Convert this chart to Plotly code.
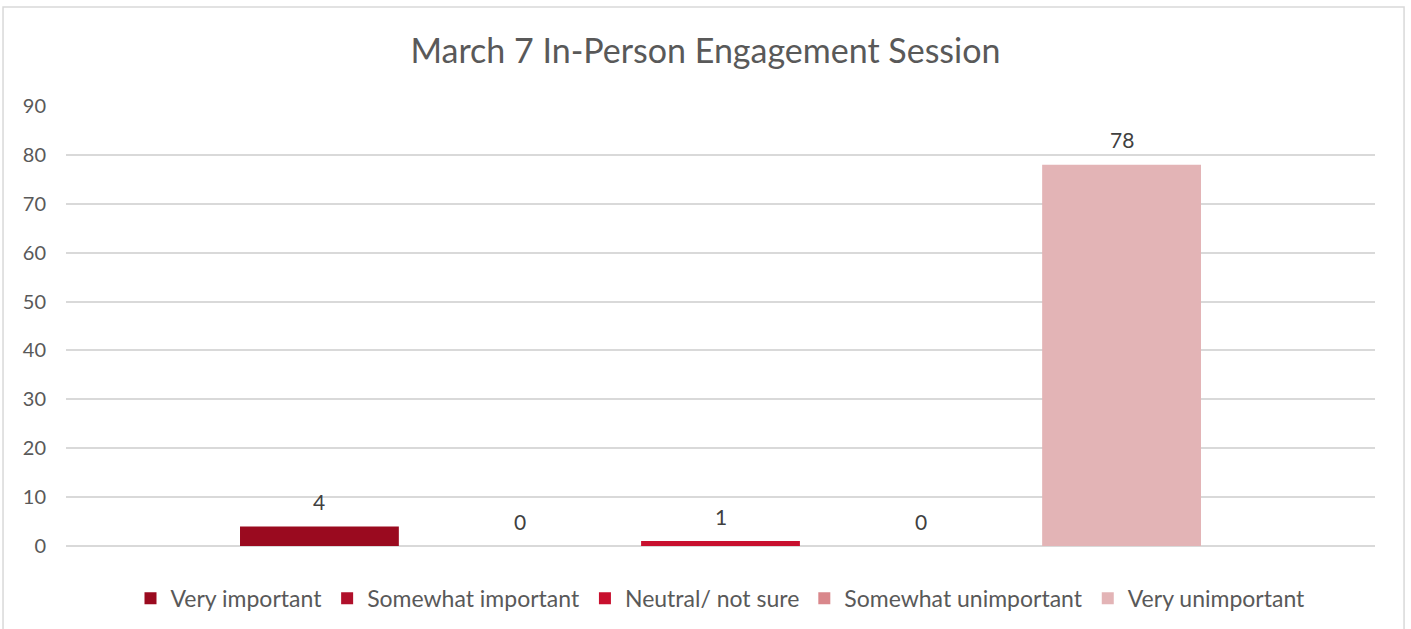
import plotly.graph_objects as go

categories = [""]
series_names = ["Very important", "Somewhat important", "Neutral/ not sure",
                "Somewhat unimportant", "Very unimportant"]
series_values = [4, 0, 1, 0, 78]
colors = ["#9A0A1F", "#B0102B", "#C8102E", "#D9878B", "#E3B4B6"]
y_ticks = [0, 10, 20, 30, 40, 50, 60, 70, 80, 90]

FONT = "Lato"
TXT = "#595959"

BARGAP = 0.234
BARGROUPGAP = 0.208

fig = go.Figure()
for name, val, col in zip(series_names, series_values, colors):
    fig.add_trace(go.Bar(
        x=categories, y=[val], name=name, marker=dict(color=col, line=dict(width=0)),
        hoverinfo="name+y",
    ))

n = len(series_names)
slot = (1 - BARGAP) / n
for i, val in enumerate(series_values):
    xc = -(1 - BARGAP) / 2 + slot * (i + 0.5)
    fig.add_annotation(x=xc, y=val, xref="x", yref="y", text=str(val),
                       showarrow=False, yanchor="middle", yshift=25,
                       font=dict(family=FONT, size=21, color="#404040"))

fig.add_shape(type="rect", xref="paper", yref="paper",
              x0=-0.0481, x1=1.0222, y0=-0.2, y1=1.225,
              line=dict(color="#D9D9D9", width=1.5), layer="below")

fig.update_layout(
    width=1411, height=629,
    paper_bgcolor="white", plot_bgcolor="white",
    margin=dict(l=66, r=36, t=106, b=83, autoexpand=False),
    barmode="group", bargap=BARGAP, bargroupgap=BARGROUPGAP,
    title=dict(text="March 7 In-Person Engagement Session", x=0.5, xanchor="center",
               y=0.918, yanchor="middle",
               font=dict(family=FONT, size=34, color=TXT)),
    font=dict(family=FONT, color=TXT),
    showlegend=True,
    legend=dict(orientation="h", x=0.5, xanchor="center",
                yref="container", y=0.049, yanchor="middle",
                font=dict(family=FONT, size=23, color=TXT),
                itemwidth=30, traceorder="normal", itemclick=False),
    xaxis=dict(showticklabels=False, showgrid=False, zeroline=False, showline=False,
               range=[-0.5, 0.5]),
    yaxis=dict(range=[0, 90], tickvals=y_ticks, showgrid=True, gridcolor="#D9D9D9",
               gridwidth=1.5, zeroline=True, zerolinecolor="#D9D9D9", zerolinewidth=1.5,
               showline=False, ticks="", ticklabelstandoff=19,
               tickfont=dict(family=FONT, size=20, color=TXT)),
)

fig.write_html("out.html")
